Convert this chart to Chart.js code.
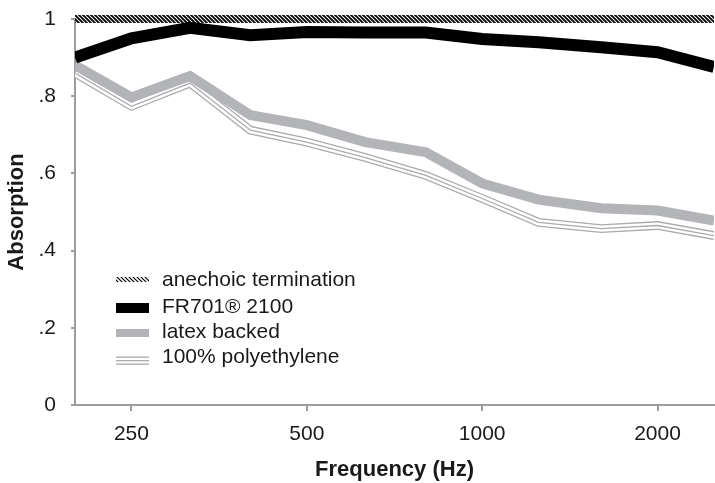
<!DOCTYPE html>
<html>
<head>
<meta charset="utf-8">
<script src="https://cdn.jsdelivr.net/npm/chart.js@4.4.1/dist/chart.umd.min.js"></script>
<style>
  html, body { margin: 0; padding: 0; background: #fff; }
  #wrap { width: 715px; height: 483px; }
</style>
</head>
<body>
<div id="wrap"><canvas id="absChart"></canvas></div>
<script>
// ====================================================
// ABSORPTION vs FREQUENCY - third octave bands
// ====================================================

const frequencies = [200, 250, 315, 400, 500, 630, 800, 1000, 1250, 1600, 2000, 2500];
const anechoic   = [1, 1, 1, 1, 1, 1, 1, 1, 1, 1, 1, 1];
const fr701      = [0.900, 0.950, 0.977, 0.958, 0.966, 0.965, 0.965, 0.948, 0.940, 0.927, 0.914, 0.876];
const latex      = [0.880, 0.797, 0.852, 0.751, 0.725, 0.681, 0.655, 0.574, 0.532, 0.510, 0.504, 0.478];
const polyEth    = [0.860, 0.774, 0.834, 0.712, 0.681, 0.641, 0.595, 0.535, 0.473, 0.457, 0.465, 0.439];

const xTickValues = [250, 500, 1000, 2000];
const yTickValues = [0, 0.2, 0.4, 0.6, 0.8, 1];
const yTickLabels = ['0', '.2', '.4', '.6', '.8', '1'];

const FONT = "'Liberation Sans', Arial, sans-serif";
const TEXT = '#1a1a1a';
const AXIS_GRAY = '#9c9d9f';
const LATEX_GRAY = '#b2b4b7';
const POLY_GRAY = '#a9abae';

// diagonal hatch used for the anechoic line
function makeHatch(size, width) {
    const c = document.createElement('canvas');
    c.width = size; c.height = size;
    const g = c.getContext('2d');
    g.strokeStyle = '#000';
    g.lineWidth = width;
    g.beginPath();
    g.moveTo(-1, -1); g.lineTo(size + 1, size + 1);
    g.moveTo(-1, size - 1); g.lineTo(1, size + 1);
    g.moveTo(size - 1, -1); g.lineTo(size + 1, 1);
    g.stroke();
    return g.createPattern(c, 'repeat');
}
const hatch = makeHatch(4, 1.9);

const toPoints = (ys) => frequencies.map((f, i) => ({ x: f, y: ys[i] }));

const legendItems = [
    { label: 'anechoic termination', kind: 'hatch' },
    { label: 'FR701® 2100', kind: 'solid', color: '#000', h: 10 },
    { label: 'latex backed', kind: 'solid', color: LATEX_GRAY, h: 8 },
    { label: '100% polyethylene', kind: 'triple', color: POLY_GRAY }
];

const legendPlugin = {
    id: 'insideLegend',
    afterDraw(chart) {
        const ctx = chart.ctx;
        const area = chart.chartArea;
        const sx = area.left + 41, sw = 33, tx = area.left + 87;
        const rows = [area.top + 261, area.top + 288, area.top + 313, area.top + 338];
        ctx.save();
        ctx.font = '21px ' + FONT;
        ctx.textBaseline = 'middle';
        legendItems.forEach((item, i) => {
            const y = rows[i];
            if (item.kind === 'hatch') {
                ctx.fillStyle = makeHatch(4, 1.2);
                ctx.fillRect(sx, y - 3, sw, 5);
            } else if (item.kind === 'solid') {
                ctx.fillStyle = item.color;
                ctx.fillRect(sx, y - item.h / 2 + 1, sw, item.h);
            } else {
                ctx.fillStyle = item.color;
                [-0.5, 3, 6.5].forEach(d => ctx.fillRect(sx, y + d, sw, 1.3));
            }
            ctx.fillStyle = TEXT;
            ctx.fillText(item.label, tx, y);
        });
        ctx.restore();
    }
};

const ctx = document.getElementById('absChart').getContext('2d');
new Chart(ctx, {
    type: 'line',
    data: {
        datasets: [
            { label: 'anechoic termination', data: toPoints(anechoic), borderColor: hatch, borderWidth: 8, clip: false },
            { label: 'FR701® 2100', data: toPoints(fr701), borderColor: '#000', borderWidth: 12 },
            { label: 'latex backed', data: toPoints(latex), borderColor: LATEX_GRAY, borderWidth: 10 },
            // polyethylene: three thin parallel strokes built from one path
            { label: '100% polyethylene', data: toPoints(polyEth), borderColor: POLY_GRAY, borderWidth: 1.3 },
            { label: 'poly gap', data: toPoints(polyEth), borderColor: '#fff', borderWidth: 6.2 },
            { label: 'poly outer', data: toPoints(polyEth), borderColor: POLY_GRAY, borderWidth: 8.8 }
        ]
    },
    options: {
        responsive: true,
        maintainAspectRatio: false,
        animation: false,
        layout: { padding: { top: 19, right: 1, left: 0, bottom: 0 } },
        elements: {
            point: { radius: 0, hoverRadius: 0 },
            line: { tension: 0, borderCapStyle: 'butt', borderJoinStyle: 'miter', fill: false }
        },
        plugins: { legend: { display: false }, tooltip: { enabled: false } },
        scales: {
            x: {
                type: 'logarithmic',
                min: 200,
                max: 2500,
                afterBuildTicks: (scale) => { scale.ticks = xTickValues.map(v => ({ value: v })); },
                afterFit: (scale) => { scale.height = 78; scale.paddingLeft = 0; scale.paddingRight = 0; },
                border: { color: AXIS_GRAY, width: 2 },
                grid: { drawOnChartArea: false, drawTicks: true, tickLength: 6, color: AXIS_GRAY, lineWidth: 2 },
                ticks: { callback: (v) => String(v), font: { family: FONT, size: 21 }, color: TEXT, padding: 11, maxRotation: 0 },
                title: { display: true, text: 'Frequency (Hz)', font: { family: FONT, size: 22, weight: 'bold' }, color: TEXT, padding: { top: 0, bottom: 0 } }
            },
            y: {
                min: 0,
                max: 1,
                afterBuildTicks: (scale) => { scale.ticks = yTickValues.map(v => ({ value: v })); },
                afterFit: (scale) => { scale.width = 75; scale.paddingTop = 0; scale.paddingBottom = 0; },
                border: { color: AXIS_GRAY, width: 2 },
                grid: { drawOnChartArea: false, drawTicks: true, tickLength: 4, color: AXIS_GRAY, lineWidth: 2 },
                ticks: { callback: (v, i) => yTickLabels[i], font: { family: FONT, size: 21 }, color: TEXT, padding: 15 },
                title: { display: true, text: 'Absorption', font: { family: FONT, size: 22, weight: 'bold' }, color: TEXT, padding: { top: 4, bottom: 0 } }
            }
        }
    },
    plugins: [legendPlugin]
});
</script>
</body>
</html>
